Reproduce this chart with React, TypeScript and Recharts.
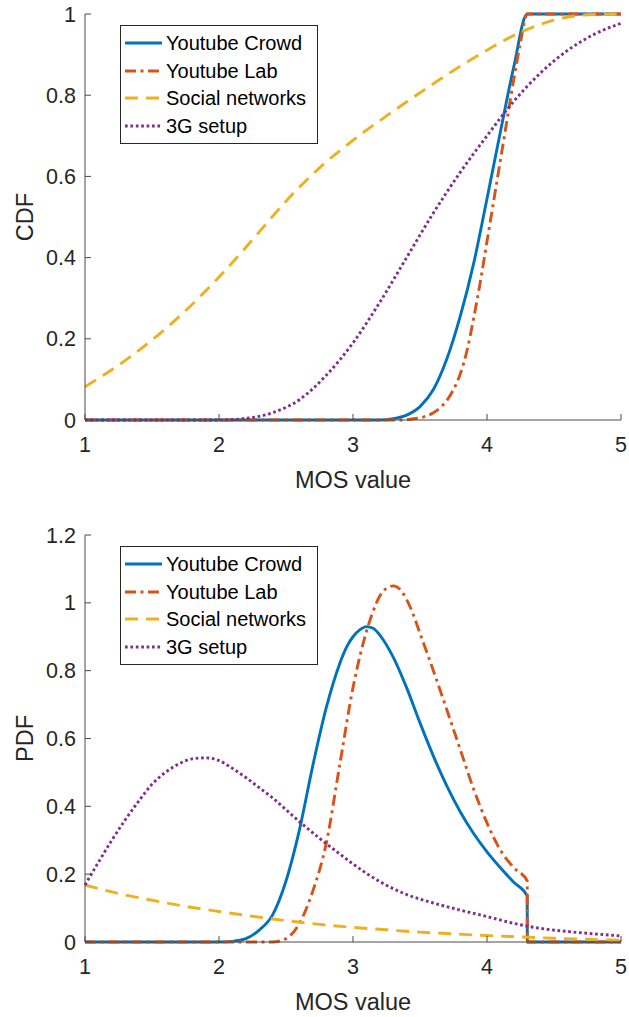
import React from 'react';
import { Legend, Line, LineChart, XAxis, YAxis } from 'recharts';

const mosTicks = [1, 2, 3, 4, 5];
const cdfTicks = [0, 0.2, 0.4, 0.6, 0.8, 1];
const pdfTicks = [0, 0.2, 0.4, 0.6, 0.8, 1, 1.2];

const seriesNames = ['Youtube Crowd', 'Youtube Lab', 'Social networks', '3G setup'];

// [MOS value, CDF]
const crowdCdf = [
  [1, 0], [3.2, 0], [3.3, 0.003], [3.4, 0.012], [3.5, 0.033], [3.6, 0.075], [3.7, 0.15],
  [3.8, 0.255], [3.9, 0.385], [4.0, 0.545], [4.1, 0.71], [4.2, 0.87], [4.3, 1], [5, 1],
];
const labCdf = [
  [1, 0], [3.35, 0], [3.45, 0.003], [3.55, 0.01], [3.6, 0.018], [3.65, 0.03], [3.7, 0.048],
  [3.75, 0.075], [3.8, 0.113], [3.85, 0.17], [3.9, 0.25], [3.95, 0.34], [4.0, 0.44], [4.05, 0.54],
  [4.1, 0.64], [4.15, 0.74], [4.2, 0.84], [4.25, 0.93], [4.3, 1], [5, 1],
];
const socialCdf = [
  [1, 0.082], [1.25, 0.135], [1.5, 0.197], [1.75, 0.269], [2, 0.352], [2.25, 0.444], [2.5, 0.539],
  [2.75, 0.621], [3, 0.689], [3.25, 0.749], [3.5, 0.806], [3.75, 0.861], [4, 0.911],
  [4.25, 0.955], [4.5, 0.985], [4.75, 0.998], [5, 1],
];
const g3Cdf = [
  [1, 0], [2, 0], [2.2, 0.004], [2.4, 0.018], [2.6, 0.05], [2.8, 0.11], [3, 0.19], [3.2, 0.29],
  [3.4, 0.4], [3.6, 0.51], [3.8, 0.61], [4, 0.7], [4.2, 0.785], [4.4, 0.855], [4.6, 0.91],
  [4.8, 0.95], [5, 0.977],
];

// [MOS value, PDF]
const crowdPdf = [
  [1, 0], [2, 0], [2.1, 0.002], [2.2, 0.01], [2.3, 0.035], [2.4, 0.08], [2.5, 0.18], [2.6, 0.33],
  [2.7, 0.52], [2.8, 0.69], [2.9, 0.82], [2.95, 0.868], [3, 0.9], [3.05, 0.92], [3.1, 0.93],
  [3.15, 0.925], [3.2, 0.905], [3.3, 0.84], [3.4, 0.75], [3.5, 0.646], [3.6, 0.548], [3.7, 0.46],
  [3.8, 0.384], [3.9, 0.32], [4, 0.266], [4.1, 0.219], [4.2, 0.176], [4.3, 0.135], [4.301, 0], [5, 0],
];
const labPdf = [
  [1, 0], [2.4, 0], [2.5, 0.01], [2.6, 0.055], [2.7, 0.15], [2.8, 0.29], [2.9, 0.52], [3, 0.75],
  [3.1, 0.915], [3.15, 0.975], [3.2, 1.02], [3.25, 1.043], [3.3, 1.05], [3.35, 1.04], [3.4, 1.01],
  [3.45, 0.965], [3.5, 0.91], [3.6, 0.8], [3.7, 0.685], [3.8, 0.568], [3.9, 0.451], [4, 0.351],
  [4.1, 0.271], [4.2, 0.219], [4.3, 0.18], [4.301, 0], [5, 0],
];
const socialPdf = [
  [1, 0.168], [1.25, 0.143], [1.5, 0.123], [1.75, 0.105], [2, 0.09], [2.25, 0.076], [2.5, 0.063],
  [2.75, 0.052], [3, 0.043], [3.25, 0.036], [3.5, 0.029], [3.75, 0.024], [4, 0.019],
  [4.25, 0.015], [4.5, 0.011], [4.75, 0.008], [5, 0.005],
];
const g3Pdf = [
  [1, 0.168], [1.1, 0.235], [1.2, 0.3], [1.3, 0.36], [1.4, 0.415], [1.5, 0.465], [1.6, 0.5],
  [1.7, 0.525], [1.8, 0.54], [1.9, 0.543], [2, 0.535], [2.1, 0.512], [2.2, 0.485], [2.3, 0.455],
  [2.4, 0.425], [2.5, 0.39], [2.6, 0.355], [2.7, 0.322], [2.8, 0.29], [2.9, 0.26], [3, 0.23],
  [3.2, 0.178], [3.4, 0.14], [3.6, 0.115], [3.8, 0.094], [4, 0.075], [4.2, 0.055], [4.4, 0.04],
  [4.6, 0.031], [4.8, 0.024], [5, 0.018],
];

const lineStyles: Record<string, { color: string; dash?: string }> = {
  'Youtube Crowd': { color: '#0072BD' },
  'Youtube Lab': { color: '#D95319', dash: '11 4.5 3 4.5' },
  'Social networks': { color: '#EDB120', dash: '13 8' },
  '3G setup': { color: '#7E2F8E', dash: '2.7 2.7' },
};

const FONT = '"Liberation Sans", Arial, Helvetica, sans-serif';
const AXIS = '#4a4a4a';
const TEXT = '#262626';
const LW = 2.9;

const toPoints = (pairs: number[][]) => pairs.map(([x, y]) => ({ x, y }));

function MatlabLegend({ payload }: any) {
  const items = [...(payload || [])].sort(
    (a: any, b: any) => seriesNames.indexOf(a.value) - seriesNames.indexOf(b.value),
  );
  return (
    <div
      style={{
        border: `1px solid ${TEXT}`,
        background: '#fff',
        padding: '3px 11px 3px 4px',
        fontFamily: FONT,
        fontSize: 20,
        color: '#000',
        lineHeight: 1,
      }}
    >
      {items.map((entry: any) => {
        const st = lineStyles[entry.value];
        return (
          <div key={entry.value} style={{ display: 'flex', alignItems: 'center', height: 27.8 }}>
            <svg width={37} height={10} style={{ display: 'block' }}>
              <line x1={0} y1={5} x2={37} y2={5} stroke={st.color} strokeWidth={LW} strokeDasharray={st.dash} />
            </svg>
            <span style={{ marginLeft: 4, whiteSpace: 'nowrap' }}>{entry.value}</span>
          </div>
        );
      })}
    </div>
  );
}

function Panel({
  series,
  ticks,
  yMax,
  yLabel,
  height,
  top,
  axisHeight,
  legendTop,
}: {
  series: number[][][];
  ticks: number[];
  yMax: number;
  yLabel: string;
  height: number;
  top: number;
  axisHeight: number;
  legendTop: number;
}) {
  const tickStyle = { fontSize: 21.5, fill: TEXT, fontFamily: FONT };
  return (
    <LineChart width={629} height={height} margin={{ top, right: 8, bottom: 0, left: 0 }}>
      <XAxis
        dataKey="x"
        type="number"
        domain={[1, 5]}
        ticks={mosTicks}
        height={axisHeight}
        tickSize={-6}
        tickMargin={23}
        tick={tickStyle}
        axisLine={{ stroke: AXIS }}
        tickLine={{ stroke: AXIS }}
        label={(p: any) => {
          const vb = p.viewBox;
          return (
            <text x={vb.x + vb.width / 2} y={vb.y + 68} textAnchor="middle" fontSize={23.5} fontFamily={FONT} fill={TEXT}>
              MOS value
            </text>
          );
        }}
      />
      <XAxis
        xAxisId="top"
        orientation="top"
        type="number"
        domain={[1, 5]}
        ticks={mosTicks}
        height={0}
        tickSize={-6}
        tickFormatter={() => ''}
        axisLine={{ stroke: AXIS }}
        tickLine={{ stroke: AXIS }}
      />
      <YAxis
        type="number"
        domain={[0, yMax]}
        ticks={ticks}
        width={85}
        tickSize={-6}
        tickMargin={15}
        tick={tickStyle}
        axisLine={{ stroke: AXIS }}
        tickLine={{ stroke: AXIS }}
        label={(p: any) => {
          const vb = p.viewBox;
          const cy = vb.y + vb.height / 2;
          return (
            <text x={33} y={cy} transform={`rotate(-90 33 ${cy})`} textAnchor="middle" fontSize={23.5} fontFamily={FONT} fill={TEXT}>
              {yLabel}
            </text>
          );
        }}
      />
      <YAxis
        yAxisId="right"
        orientation="right"
        type="number"
        domain={[0, yMax]}
        ticks={ticks}
        width={0}
        tickSize={-6}
        tickFormatter={() => ''}
        axisLine={{ stroke: AXIS }}
        tickLine={{ stroke: AXIS }}
      />
      {seriesNames.map((name, i) => (
        <Line
          key={name}
          name={name}
          data={toPoints(series[i])}
          dataKey="y"
          type="monotone"
          stroke={lineStyles[name].color}
          strokeWidth={LW}
          strokeDasharray={lineStyles[name].dash}
          dot={false}
          activeDot={false}
          isAnimationActive={false}
        />
      ))}
      <Legend
        layout="vertical"
        align="center"
        verticalAlign="middle"
        content={<MatlabLegend />}
        wrapperStyle={{ position: 'absolute', left: 120, top: legendTop, width: 'auto', height: 'auto' }}
      />
    </LineChart>
  );
}

export default function App() {
  return (
    <div style={{ position: 'absolute', left: 0, top: 0, width: 629, height: 1017, background: '#fff' }}>
      <div style={{ position: 'absolute', left: 0, top: 0 }}>
        <Panel
          series={[crowdCdf, labCdf, socialCdf, g3Cdf]}
          ticks={cdfTicks}
          yMax={1}
          yLabel="CDF"
          height={510}
          top={14}
          axisHeight={90}
          legendTop={25}
        />
      </div>
      <div style={{ position: 'absolute', left: 0, top: 510 }}>
        <Panel
          series={[crowdPdf, labPdf, socialPdf, g3Pdf]}
          ticks={pdfTicks}
          yMax={1.2}
          yLabel="PDF"
          height={507}
          top={25}
          axisHeight={75}
          legendTop={36}
        />
      </div>
    </div>
  );
}
